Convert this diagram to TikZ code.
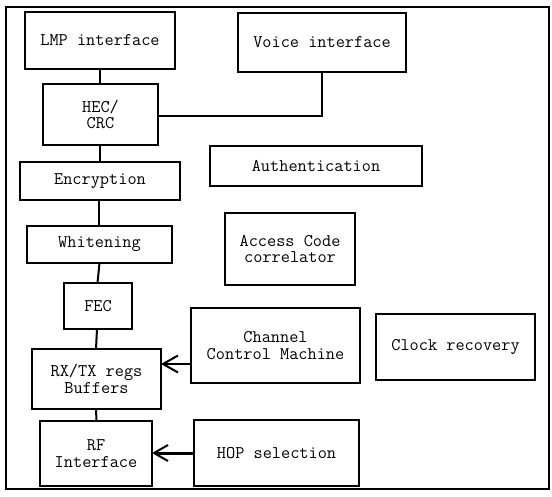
\documentclass[tikz,border=0pt]{standalone}
\usepackage{fontspec}
\usetikzlibrary{arrows.meta}
\tikzset{
  box/.style={draw, line width=2pt, inner sep=0pt, outer sep=0pt, align=center, font=\ttfamily\fontsize{17.8}{16.5}\selectfont},
  link/.style={line width=2pt},
  arr/.style={line width=2pt, -{Straight Barb[length=15pt,width=17pt,line width=2pt]}},
  arrb/.style={line width=3pt, -{Straight Barb[length=14pt,width=16pt,line width=2pt]}}
}
\begin{document}
\begin{tikzpicture}[x=1pt,y=-1pt]
\useasboundingbox (0,0) rectangle (552,496);
\draw[line width=2pt] (6,7) rectangle (549,489);
\node[box, minimum width=150pt, minimum height=57pt] (lmp) at (100,40.5) {LMP interface};
\node[box, minimum width=168pt, minimum height=59pt] (voice) at (322,42.5) {Voice interface};
\node[box, minimum width=115pt, minimum height=61pt] (hec) at (100.5,114.5) {HEC/\\CRC};
\node[box, minimum width=160pt, minimum height=38pt] (enc) at (100,181) {Encryption};
\node[box, minimum width=212pt, minimum height=40pt] (auth) at (316,166) {Authentication};
\node[box, minimum width=145pt, minimum height=37pt] (whit) at (99.5,244.5) {Whitening};
\node[box, minimum width=130pt, minimum height=72pt] (acc) at (290,249) {Access Code\\correlator};
\node[box, minimum width=68pt, minimum height=46pt] (fec) at (98,306) {FEC};
\node[box, minimum width=129pt, minimum height=60pt] (rx) at (96.5,379) {RX/TX regs\\Buffers};
\node[box, minimum width=169pt, minimum height=75pt] (ccm) at (275.5,345.5) {Channel\\Control Machine};
\node[box, minimum width=159pt, minimum height=66pt] (clk) at (455.5,347) {Clock recovery};
\node[box, minimum width=112pt, minimum height=65pt] (rf) at (96,453.5) {RF\\Interface};
\node[box, minimum width=165pt, minimum height=66pt] (hop) at (276.5,453) {HOP selection};
% connectors
\draw[link] (lmp.south) -- (lmp.south |- hec.north);
\draw[link] ([yshift=-1.5pt]hec.east) -- ([yshift=-1.5pt]hec.east -| voice.south) -- (voice.south);
\draw[link] (hec.south -| enc.north) -- (enc.north);
\draw[link] ([xshift=-1pt]enc.south) -- ([xshift=-1pt]enc.south |- whit.north);
\draw[link] (whit.south) -- ([xshift=-0.5pt]fec.north);
\draw[link] ([xshift=-1pt]fec.south) -- ([xshift=-0.5pt]rx.north);
\draw[link] ([xshift=-0.5pt]rx.south) -- (rx.south |- rf.north);
\coordinate (c1) at ([yshift=-18.5pt]ccm.west);
\draw[arr] (c1) -- (c1 -| rx.east);
\draw[arrb] (hop.west) -- (hop.west -| rf.east);
\end{tikzpicture}
\end{document}
